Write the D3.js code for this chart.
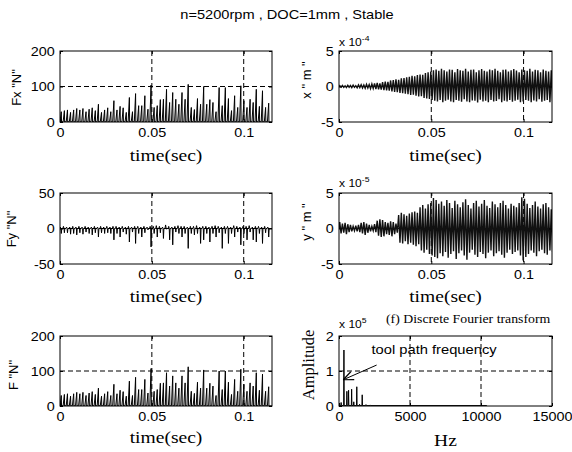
<!DOCTYPE html>
<html>
<head>
<meta charset="utf-8">
<script src="https://cdn.jsdelivr.net/npm/d3@7"></script>
<style>
body { margin: 0; background: #fff; }
svg { display: block; }
</style>
</head>
<body>
<svg id="chart" width="572" height="452"></svg>
<script>
var title = "n=5200rpm , DOC=1mm , Stable";
var timeTicks = [0, 0.05, 0.1];
var hzTicks = [0, 5000, 10000, 15000];
var tEnd = 0.1154;

// force spikes, one per tooth pass (N)
var spikeSpan = [0.0007, 0.1136];
var fxPeaks = [29,32,34,27,34,38,34,38,29,36,40,32,50,27,34,40,29,60,34,44,40,27,69,29,80,46,46,74,36,104,41,46,63,64,92,55,83,64,50,83,64,106,41,35,66,50,100,50,63,55,29,97,46,97,66,32,74,41,102,60,41,64,55,92,44,88,41,53];
var fyDips = [-7,-6,-6,-8,-7,-9,-6,-8,-5,-7,-9,-6,-12,-6,-7,-6,-7,-16,-7,-12,-5,-8,-19,-5,-21,-7,-12,-6,-2,-26,-7,-12,-6,-14,-1,-16,-23,-5,-7,-12,-7,-28,-7,-9,-7,-21,-16,-7,-19,-7,-12,-6,-28,-7,-21,-7,-12,-5,-23,-7,-16,-5,-16,-19,-7,-21,-6,-12];
var fyBumps = [2,3,2,2,3,2,3,2,3,2,2,3,2,3,2,3,2,3,3,2,3,2,3,2,3,3,2,3,2,3,3,4,3,2,5,3,2,3,4,3,3,2,3,3,4,2,3,3,2,3,4,3,2,3,3,2,4,3,2,3,3,4,2,3,3,2,3,2];
var fPeaks = [30,33,35,28,35,39,35,39,30,37,41,33,51,28,35,41,30,62,35,45,41,28,71,30,82,47,47,76,37,107,42,47,65,66,95,57,86,66,51,86,66,112,42,36,68,51,103,51,65,57,30,100,47,100,68,33,76,42,105,62,42,66,57,95,45,91,42,55];

// displacement, peak of each vibration cycle (x in 1e-4 m, y in 1e-5 m)
var dispSpan = [0.0004, 0.1150];
var xDispUp = [0.12,0.15,0.1,0.18,0.14,0.2,0.12,0.22,0.25,0.2,0.3,0.28,0.35,0.45,0.5,0.42,0.6,0.7,0.65,0.85,0.9,1.0,0.95,1.15,1.2,1.3,1.35,1.5,1.45,1.6,1.7,1.65,1.9,2.0,2.1,2.3,2.4,2.2,2.5,2.3,2.1,2.4,2.35,2.0,2.45,2.3,2.2,2.5,2.1,2.35,2.4,2.0,2.3,2.45,2.2,2.1,2.4,2.3,2.5,2.2,2.0,2.35,2.4,2.1,2.3,2.45,2.25,2.0,2.4,2.3,2.2,2.5,2.1,2.35,2.3,2.0,2.4,2.2,2.1,2.3];
var xDispLo = [-0.1,-0.12,-0.15,-0.1,-0.16,-0.12,-0.18,-0.15,-0.2,-0.25,-0.22,-0.3,-0.28,-0.35,-0.4,-0.45,-0.5,-0.55,-0.6,-0.7,-0.75,-0.8,-0.9,-0.95,-1.0,-1.1,-1.2,-1.15,-1.3,-1.4,-1.35,-1.6,-1.7,-1.75,-1.9,-2.0,-2.1,-1.9,-2.2,-2.0,-1.85,-2.1,-2.2,-1.9,-2.0,-2.15,-1.8,-2.1,-2.2,-1.95,-2.0,-2.25,-1.85,-2.1,-2.0,-2.2,-1.9,-2.1,-2.05,-1.8,-2.2,-2.0,-2.1,-1.9,-2.15,-2.0,-1.85,-2.2,-2.1,-1.9,-2.0,-2.2,-1.95,-2.1,-1.8,-2.15,-2.0,-1.9,-2.2,-2.05];
var yDispUp = [0.9,0.7,0.8,0.6,0.5,0.3,0.4,0.5,0.8,0.9,0.7,0.5,0.3,0.6,1.1,1.3,1.2,0.9,0.8,1.0,0.9,0.7,1.9,2.2,2.0,1.8,2.1,2.3,2.4,2.2,3.0,3.3,2.8,3.4,3.6,4.3,4.0,3.5,3.8,3.2,4.0,3.6,2.9,3.9,3.4,3.0,3.7,4.1,3.3,2.8,3.6,3.9,3.1,3.5,4.0,3.2,2.9,3.8,3.4,3.0,3.6,3.9,3.3,2.8,3.5,3.2,3.0,3.6,4.4,4.2,3.5,2.9,3.3,3.8,3.1,2.8,3.4,3.6,3.0,2.7];
var yDispLo = [-0.7,-0.6,-0.8,-0.5,-0.4,-0.3,-0.4,-0.5,-0.7,-0.9,-0.6,-0.4,-0.3,-0.5,-1.0,-1.2,-1.1,-0.8,-0.9,-1.1,-0.8,-0.6,-2.0,-2.1,-1.8,-2.2,-2.0,-2.3,-2.5,-2.2,-3.1,-3.4,-3.0,-3.6,-3.8,-4.0,-4.2,-3.5,-3.9,-3.3,-4.1,-3.6,-3.2,-4.3,-3.5,-3.1,-3.8,-4.4,-3.4,-3.0,-3.7,-4.0,-3.3,-3.6,-4.2,-3.4,-3.1,-3.9,-3.5,-3.2,-3.7,-4.1,-3.4,-3.0,-3.6,-3.3,-3.1,-3.8,-4.5,-4.0,-3.6,-3.1,-3.4,-3.9,-3.2,-3.0,-3.5,-3.7,-3.1,-3.3];

// DFT peaks (Hz, amplitude in 1e5)
var specFreq = [150, 347, 555, 675, 890, 1040, 1253, 1450, 1635, 1900, 2200];
var specAmp = [0.1, 1.6, 0.42, 0.45, 0.48, 0.12, 0.55, 0.05, 0.32, 0.04, 0.03];
var specFloor = 0.012, specEnd = 10400;
var noteText = "tool path frequency";
var notePos = [2290, 1.49], arrowFrom = [2650, 1.17], arrowTo = [300, 0.75];

var svg = d3.select("#chart");
var SX = 1.15; // glyphs in the reference are a bit wider than tall
var sans = "'Liberation Sans', Arial, Helvetica, sans-serif";
var serif = "'Liberation Serif', 'Times New Roman', Times, serif";

function label(g, x, y, s, size, family, anchor, rot) {
  var t = g.append("text")
    .attr("transform", "translate(" + x + "," + y + ")" + (rot ? " rotate(-90)" : " scale(" + SX + ",1)"))
    .attr("text-anchor", anchor || "middle")
    .style("font-family", family)
    .style("font-size", size + "px")
    .attr("fill", "#000")
    .text(s);
  return t;
}

var L = { left: 60, w: 212 }, R = { left: 339, w: 213 };
var rows = [{ top: 51, h: 71 }, { top: 193, h: 71 }, { top: 336, h: 70 }];
var clipN = 0;

function panel(col, row, cfg) {
  var w = col.w, h = row.h;
  var g = svg.append("g").attr("transform", "translate(" + col.left + "," + row.top + ")");
  var x = d3.scaleLinear().domain(cfg.xDomain).range([0, w]);
  var y = d3.scaleLinear().domain(cfg.yDomain).range([h, 0]);

  // grid, dashed, under data
  var gx = cfg.xTicks.filter(function (v) { return v > cfg.xDomain[0] && v < cfg.xDomain[1]; });
  var gy = cfg.yTicks.filter(function (v) { return v > cfg.yDomain[0] && v < cfg.yDomain[1]; });
  g.selectAll(".gx").data(gx).enter().append("line")
    .attr("x1", function (d) { return x(d); }).attr("x2", function (d) { return x(d); })
    .attr("y1", 0).attr("y2", h)
    .attr("stroke", "#000").attr("stroke-width", 1).attr("stroke-dasharray", "5,3");
  g.selectAll(".gy").data(gy).enter().append("line")
    .attr("y1", function (d) { return y(d); }).attr("y2", function (d) { return y(d); })
    .attr("x1", 0).attr("x2", w)
    .attr("stroke", "#000").attr("stroke-width", 1).attr("stroke-dasharray", "5,3");

  var id = "clip" + (clipN++);
  g.append("clipPath").attr("id", id).append("rect").attr("width", w).attr("height", h);
  var data = g.append("g").attr("clip-path", "url(#" + id + ")");

  // axes with inward ticks on all four sides
  var fmt = function (d) { return String(d); };
  var ax = g.append("g").attr("transform", "translate(0," + h + ")")
    .call(d3.axisBottom(x).tickValues(cfg.xTicks).tickFormat(fmt).tickSizeInner(-3).tickSizeOuter(0).tickPadding(6.5));
  g.append("g").call(d3.axisTop(x).tickValues(cfg.xTicks).tickFormat("").tickSizeInner(-3).tickSizeOuter(0));
  var ay = g.append("g")
    .call(d3.axisLeft(y).tickValues(cfg.yTicks).tickFormat(fmt).tickSizeInner(-3).tickSizeOuter(0).tickPadding(4.5));
  g.append("g").attr("transform", "translate(" + w + ",0)")
    .call(d3.axisRight(y).tickValues(cfg.yTicks).tickFormat("").tickSizeInner(-3).tickSizeOuter(0));
  g.selectAll(".domain").remove();
  g.selectAll(".tick line").attr("stroke", "#000");
  [ax, ay].forEach(function (a) {
    a.selectAll("text").attr("transform", "scale(" + SX + ",1)")
      .style("font-family", sans).style("font-size", "12.5px").attr("fill", "#000");
  });

  g.append("rect").attr("width", w).attr("height", h)
    .attr("fill", "none").attr("stroke", "#000").attr("stroke-width", 1);

  // axis texts
  label(svg, col.left + w / 2, row.top + h + cfg.xLabelDy, cfg.xLabel, 17, serif);
  label(svg, cfg.yLabelX, cfg.yLabelY, cfg.yLabel, cfg.yLabelSize, cfg.yLabelFont, "middle", true);
  if (cfg.exp) {
    var t = label(svg, col.left, row.top - cfg.expDy, "x 10", 10.5, sans, "start");
    t.append("tspan").attr("dy", -5).style("font-size", "7.5px").text(cfg.exp);
  }
  return { g: data, x: x, y: y };
}

var line = function (p) {
  return d3.line().x(function (d) { return p.x(d[0]); }).y(function (d) { return p.y(d[1]); });
};

function spikeTimes(n) {
  return d3.scaleLinear().domain([0, n - 1]).range(spikeSpan);
}

// cutting force: ramp up to each peak, then a quick drop
function forcePath(p, peaks) {
  var ts = spikeTimes(peaks.length), dt = ts(1) - ts(0), pts = [[0, 0]];
  peaks.forEach(function (v, i) {
    var t = ts(i);
    pts.push([t - 0.4 * dt, 1], [t, v], [t + 0.08 * dt, 0]);
  });
  pts.push([tEnd, 0]);
  p.g.append("path").attr("d", line(p)(pts))
    .attr("fill", "none").attr("stroke", "#000").attr("stroke-width", 1);
}

function fyPath(p) {
  var ts = spikeTimes(fyDips.length), dt = ts(1) - ts(0), pts = [[0, 0]];
  fyDips.forEach(function (v, i) {
    var t = ts(i);
    pts.push([t - 0.5 * dt, 0], [t - 0.3 * dt, fyBumps[i]], [t - 0.12 * dt, 0], [t, v], [t + 0.15 * dt, 0]);
  });
  pts.push([tEnd, 0]);
  p.g.append("path").attr("d", line(p)(pts))
    .attr("fill", "none").attr("stroke", "#000").attr("stroke-width", 1);
}

// vibration: zigzag through each cycle's max and min
function dispPath(p, up, lo) {
  var ts = d3.scaleLinear().domain([0, up.length - 1]).range(dispSpan);
  var half = (ts(1) - ts(0)) / 2, pts = [[0, 0]];
  up.forEach(function (v, i) {
    pts.push([ts(i), v], [ts(i) + half, lo[i]]);
  });
  p.g.append("path").attr("d", line(p)(pts))
    .attr("fill", "none").attr("stroke", "#111").attr("stroke-width", 1.4);
}

// ---- panels ----
var p1 = panel(L, rows[0], {
  xDomain: [0, tEnd], yDomain: [0, 200], xTicks: timeTicks, yTicks: [0, 100, 200],
  xLabel: "time(sec)", xLabelDy: 39, yLabel: "Fx \"N\"", yLabelX: 20.5, yLabelY: 87.5, yLabelSize: 13, yLabelFont: sans
});
forcePath(p1, fxPeaks);

var p2 = panel(R, rows[0], {
  xDomain: [0, tEnd], yDomain: [-5, 5], xTicks: timeTicks, yTicks: [-5, 0, 5],
  xLabel: "time(sec)", xLabelDy: 39, yLabel: "x \" m \"", yLabelX: 310.5, yLabelY: 80, yLabelSize: 13, yLabelFont: sans,
  exp: "-4", expDy: 5
});
dispPath(p2, xDispUp, xDispLo);

var p3 = panel(L, rows[1], {
  xDomain: [0, tEnd], yDomain: [-50, 50], xTicks: timeTicks, yTicks: [-50, 0, 50],
  xLabel: "time(sec)", xLabelDy: 38, yLabel: "Fy \"N\"", yLabelX: 15.5, yLabelY: 229, yLabelSize: 13, yLabelFont: sans
});
fyPath(p3);

var p4 = panel(R, rows[1], {
  xDomain: [0, tEnd], yDomain: [-5, 5], xTicks: timeTicks, yTicks: [-5, 0, 5],
  xLabel: "time(sec)", xLabelDy: 38, yLabel: "y \" m \"", yLabelX: 311, yLabelY: 222, yLabelSize: 13, yLabelFont: sans,
  exp: "-5", expDy: 6
});
dispPath(p4, yDispUp, yDispLo);

var p5 = panel(L, rows[2], {
  xDomain: [0, tEnd], yDomain: [0, 200], xTicks: timeTicks, yTicks: [0, 100, 200],
  xLabel: "time(sec)", xLabelDy: 37, yLabel: "F \"N\"", yLabelX: 18, yLabelY: 375, yLabelSize: 13, yLabelFont: sans
});
forcePath(p5, fPeaks);

var p6 = panel(R, rows[2], {
  xDomain: [0, 15000], yDomain: [0, 2], xTicks: hzTicks, yTicks: [0, 1, 2],
  xLabel: "Hz", xLabelDy: 40, yLabel: "Amplitude", yLabelX: 314, yLabelY: 365, yLabelSize: 16.5, yLabelFont: serif,
  exp: "5", expDy: 8
});
var spts = [[0, specFloor * 2]];
specFreq.forEach(function (f, i) {
  spts.push([f - 20, specFloor], [f, specAmp[i]], [f + 20, specFloor]);
});
spts.push([specEnd, specFloor], [specEnd + 30, 0]);
p6.g.append("path").attr("d", line(p6)(spts))
  .attr("fill", "none").attr("stroke", "#000").attr("stroke-width", 1);

// annotation on the spectrum
var ag = svg.append("g").attr("transform", "translate(" + R.left + "," + rows[2].top + ")");
label(ag, p6.x(notePos[0]), p6.y(notePos[1]), noteText, 12.8, sans, "start");
var ax0 = p6.x(arrowFrom[0]), ay0 = p6.y(arrowFrom[1]), ax1 = p6.x(arrowTo[0]), ay1 = p6.y(arrowTo[1]);
ag.append("line").attr("x1", ax0).attr("y1", ay0).attr("x2", ax1).attr("y2", ay1)
  .attr("stroke", "#000").attr("stroke-width", 1);
var ang = Math.atan2(ay0 - ay1, ax0 - ax1), hl = 11;
[-0.4, 0.4].forEach(function (da) {
  ag.append("line").attr("x1", ax1).attr("y1", ay1)
    .attr("x2", ax1 + hl * Math.cos(ang + da)).attr("y2", ay1 + hl * Math.sin(ang + da))
    .attr("stroke", "#000").attr("stroke-width", 1.2);
});

label(svg, 386, 323, "(f) Discrete Fourier transform", 12, serif, "start");
label(svg, 287, 19, title, 12.7, sans);
</script>
</body>
</html>
